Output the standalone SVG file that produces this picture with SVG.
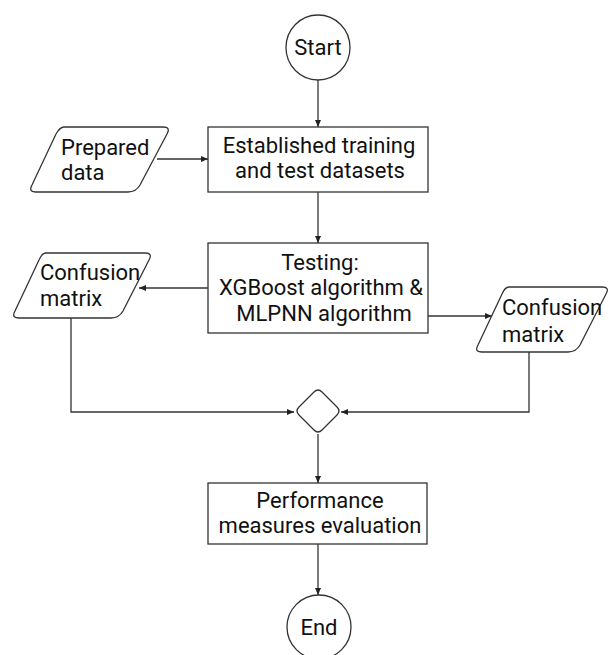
<svg xmlns="http://www.w3.org/2000/svg" width="609" height="655" viewBox="0 0 609 655">
<defs>
<style>
.s{fill:#fff;stroke:#333;stroke-width:1.3}
.c{fill:none;stroke:#333;stroke-width:1.3}
.t{font-family:Roboto,"Liberation Sans",sans-serif;font-size:22px;fill:#111}
.m{text-anchor:middle}
</style>
<marker id="a" markerWidth="8" markerHeight="8" refX="7" refY="4" orient="auto" markerUnits="userSpaceOnUse">
<path d="M0,1 L7,4 L0,7 Z" fill="#222"/>
</marker>
</defs>
<rect width="609" height="655" fill="#fff"/>
<g id="connectors">
<path class="c" d="M318,80 V127" marker-end="url(#a)"/>
<path class="c" d="M157,159 H208" marker-end="url(#a)"/>
<path class="c" d="M318,192 V243" marker-end="url(#a)"/>
<path class="c" d="M208,288 H139" marker-end="url(#a)"/>
<path class="c" d="M428,316 H492" marker-end="url(#a)"/>
<path class="c" d="M71,318 V412 H294" marker-end="url(#a)"/>
<path class="c" d="M529,352 V412 H341" marker-end="url(#a)"/>
<path class="c" d="M318,434 V483" marker-end="url(#a)"/>
<path class="c" d="M318,544 V595" marker-end="url(#a)"/>
</g>
<g id="start">
<ellipse class="s" cx="318" cy="47.5" rx="32" ry="32.5"/>
<text class="t m" x="318" y="55">Start</text>
</g>
<g id="prepared">
<path class="s" d="M64,127 H163 Q171,127 167,134 L140,185 Q136,192 128,192 H36 Q28,192 32,185 L56,134 Q60,127 64,127 Z"/>
<text class="t" x="61" y="155">Prepared</text>
<text class="t" x="61" y="180">data</text>
</g>
<g id="datasets">
<rect class="s" x="208" y="127" width="220" height="65"/>
<text class="t m" x="319" y="153">Established training</text>
<text class="t m" x="320" y="178">and test datasets</text>
</g>
<g id="testing">
<rect class="s" x="208" y="243" width="220" height="90"/>
<text class="t m" x="320" y="270">Testing:</text>
<text class="t m" x="321" y="295">XGBoost algorithm &amp;</text>
<text class="t m" x="324" y="321">MLPNN algorithm</text>
</g>
<g id="confusion-left">
<path class="s" d="M46,253 H145 Q153,253 149,260 L123,311 Q119,318 111,318 H19 Q11,318 15,311 L39,260 Q42,253 46,253 Z"/>
<text class="t" x="40" y="280">Confusion</text>
<text class="t" x="40" y="306">matrix</text>
</g>
<g id="confusion-right">
<path class="s" d="M509,287 H602 Q610,287 606,294 L580,345 Q576,352 568,352 H482 Q474,352 478,345 L502,294 Q505,287 509,287 Z"/>
<text class="t" x="502" y="315">Confusion</text>
<text class="t" x="502" y="342">matrix</text>
</g>
<g id="merge">
<path class="s" d="M314,392 Q318,388 322,392 L337,407 Q341,411 337,415 L322,430 Q318,434 314,430 L299,415 Q295,411 299,407 Z"/>
</g>
<g id="performance">
<rect class="s" x="208" y="483" width="219" height="61"/>
<text class="t m" x="320" y="508">Performance</text>
<text class="t m" x="320" y="533">measures evaluation</text>
</g>
<g id="end">
<circle class="s" cx="319" cy="627" r="32"/>
<text class="t m" x="319" y="635">End</text>
</g>
</svg>
